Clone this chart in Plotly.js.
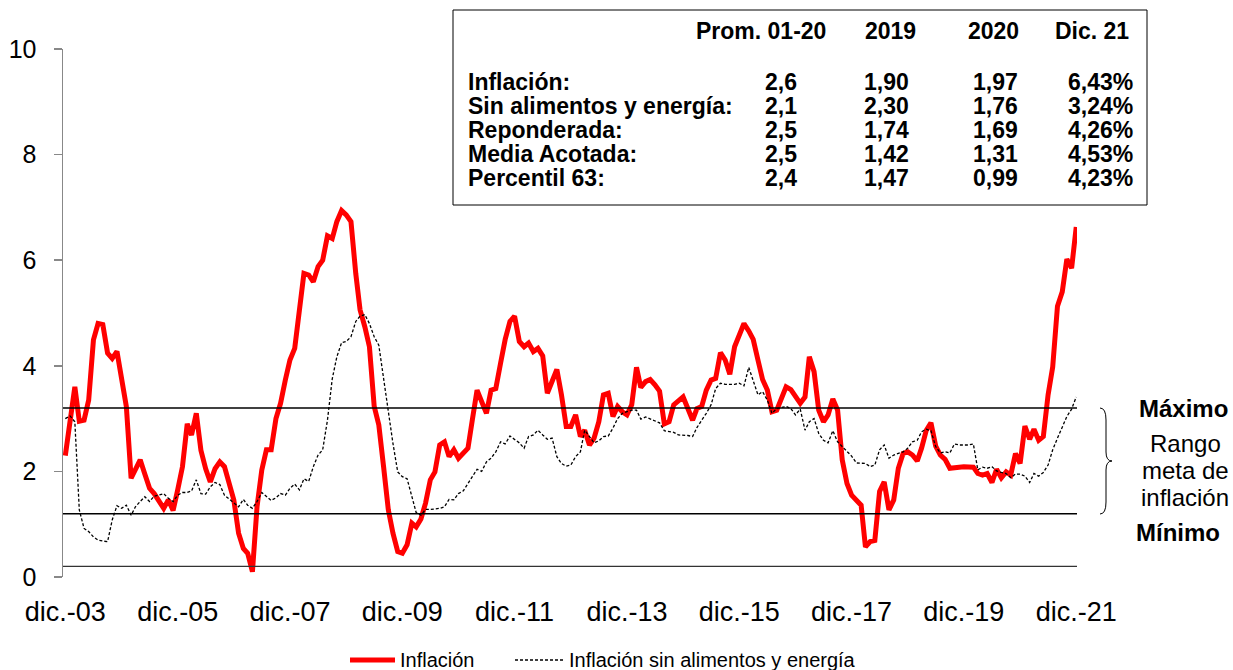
<!DOCTYPE html>
<html>
<head>
<meta charset="utf-8">
<script src="https://cdn.plot.ly/plotly-3.0.1.min.js"></script>
<style>html,body{margin:0;padding:0;background:#fff;}#chart{width:1233px;height:670px;}</style>
</head>
<body>
<div id="chart"></div>
<script>
// Monthly series, dic.-2003 .. dic.-2021 (217 months)
var startMonth = '2003-12';
var inflacion = [
2.30,2.90,3.60,2.95,2.97,3.35,4.49,4.80,4.78,4.24,4.14,4.27,3.73,3.23,1.87,2.05,2.22,1.95,1.68,1.58,
1.45,1.30,1.46,1.26,1.65,2.09,2.90,2.69,3.10,2.40,2.05,1.80,2.05,2.18,2.09,1.80,1.46,0.83,0.54,0.45,
0.10,1.33,2.03,2.41,2.41,3.00,3.29,3.73,4.11,4.33,4.99,5.75,5.72,5.59,5.88,6.00,6.46,6.41,6.73,6.94,
6.86,6.73,5.75,5.06,4.74,4.36,3.23,2.88,2.09,1.27,0.83,0.48,0.45,0.61,1.02,0.95,1.10,1.40,1.84,1.99,
2.50,2.56,2.28,2.41,2.25,2.34,2.44,2.97,3.54,3.32,3.10,3.54,3.57,4.05,4.50,4.84,4.94,4.46,4.36,4.43,
4.27,4.33,4.19,3.48,3.70,3.93,3.45,2.85,2.85,3.07,2.66,2.78,2.50,2.63,2.94,3.45,3.48,3.04,3.23,3.13,
3.07,3.26,3.97,3.59,3.70,3.74,3.64,3.52,2.90,2.94,3.26,3.34,3.41,3.19,2.97,3.19,3.23,3.54,3.73,3.76,
4.25,4.11,3.84,4.36,4.58,4.80,4.66,4.50,4.11,3.74,3.54,3.13,3.16,3.38,3.60,3.55,3.43,3.29,3.41,4.17,
3.89,3.16,2.94,3.07,3.37,3.16,2.22,1.77,1.55,1.46,1.36,0.57,0.67,0.69,1.62,1.80,1.27,1.46,2.06,2.34,
2.37,2.31,2.20,2.44,2.78,2.92,2.48,2.31,2.23,2.06,2.08,2.08,2.09,2.09,2.08,1.96,1.93,1.96,1.79,2.04,
1.88,1.99,1.93,2.34,2.15,2.86,2.61,2.80,2.59,2.66,3.45,3.98,5.13,5.40,6.02,5.85,6.63
];
var sinAlimentos = [
3.00,3.05,2.94,1.27,0.92,0.86,0.76,0.70,0.68,0.67,1.08,1.35,1.30,1.36,1.17,1.33,1.43,1.52,1.43,1.53,
1.55,1.58,1.49,1.43,1.55,1.60,1.60,1.63,1.84,1.58,1.57,1.71,1.79,1.75,1.55,1.47,1.40,1.33,1.47,1.36,
1.30,1.43,1.60,1.52,1.45,1.50,1.58,1.55,1.68,1.76,1.65,1.86,1.81,2.09,2.31,2.41,2.97,3.75,4.17,4.44,
4.46,4.55,4.84,4.94,4.97,4.80,4.55,4.39,3.75,3.10,2.53,1.99,1.90,1.86,1.52,1.22,1.17,1.28,1.28,1.29,
1.30,1.33,1.47,1.46,1.58,1.63,1.77,1.89,2.04,2.00,2.18,2.25,2.37,2.56,2.52,2.67,2.61,2.54,2.44,2.66,
2.69,2.78,2.69,2.61,2.63,2.28,2.15,2.10,2.12,2.28,2.37,2.78,2.66,2.54,2.58,2.66,2.67,2.82,3.00,3.10,
3.13,3.16,3.16,2.99,3.03,2.99,2.96,2.92,2.77,2.75,2.74,2.69,2.69,2.68,2.66,2.83,2.97,3.10,3.26,3.57,
3.67,3.65,3.65,3.65,3.67,3.62,3.97,3.73,3.45,3.51,3.35,3.10,3.19,3.21,3.23,3.19,3.07,3.18,2.78,2.94,
3.00,2.72,2.59,2.54,2.77,2.56,2.47,2.39,2.29,2.16,2.16,2.15,2.09,2.12,2.41,2.50,2.25,2.31,2.34,2.37,
2.44,2.56,2.59,2.75,2.80,2.77,2.47,2.35,2.37,2.35,2.52,2.50,2.50,2.50,2.52,2.03,2.08,2.06,2.09,2.01,
1.98,1.96,1.88,1.95,1.95,1.91,1.79,1.96,1.91,1.98,2.12,2.41,2.63,2.85,3.04,3.18,3.41
];
var tickVals = ['2003-12-01','2005-12-01','2007-12-01','2009-12-01','2011-12-01','2013-12-01','2015-12-01','2017-12-01','2019-12-01','2021-12-01'];
var tickText = ['dic.-03','dic.-05','dic.-07','dic.-09','dic.-11','dic.-13','dic.-15','dic.-17','dic.-19','dic.-21'];
var metaMax = 3.2, metaMin = 1.2, baseLine = 0.2;
var seriesNames = ['Inflación', 'Inflación sin alimentos y energía'];

// Table
var tableHeader = ['Prom. 01-20','2019','2020','Dic. 21'];
var tableRows = ['Inflación:','Sin alimentos y energía:','Reponderada:','Media Acotada:','Percentil 63:'];
var colProm = ['2,6','2,1','2,5','2,5','2,4'];
var col2019 = ['1,90','2,30','1,74','1,42','1,47'];
var col2020 = ['1,97','1,76','1,69','1,31','0,99'];
var colDic21 = ['6,43%','3,24%','4,26%','4,53%','4,23%'];

// month list
var months = [];
(function(){
  var y = parseInt(startMonth.slice(0,4),10), m = parseInt(startMonth.slice(5,7),10);
  for (var i = 0; i < inflacion.length; i++) {
    months.push(y + '-' + (m < 10 ? '0' + m : m) + '-01');
    m++; if (m > 12) { m = 1; y++; }
  }
})();

// pixel -> paper helpers (plot area: x 63..1077, y 49..577)
var L = 63, R = 1077, T = 49, B = 577;
function px(x){ return (x - L) / (R - L); }
function py(y){ return (B - y) / (B - T); }

var FONT = 'Liberation Sans, Arial, sans-serif';
var ann = [];
function addText(text, x, y, size, bold, anchor){
  ann.push({text: bold ? '<b>' + text + '</b>' : text, xref:'paper', yref:'paper',
    x: px(x), y: py(y), xanchor: anchor || 'center', yanchor:'middle', showarrow:false,
    font:{family:FONT, size:size, color:'#000'}});
}
var colX = [761, 890, 993, 1092];
var valX = [781, 886, 995, 1100];
var rowY = [82, 106, 130, 154, 178];
for (var c = 0; c < tableHeader.length; c++) addText(tableHeader[c], colX[c], 31, 23, true);
var cols = [colProm, col2019, col2020, colDic21];
for (var r = 0; r < tableRows.length; r++) {
  addText(tableRows[r], 466, rowY[r], 23, true, 'left');
  for (var c2 = 0; c2 < cols.length; c2++) addText(cols[c2][r], valX[c2], rowY[r], 23, true);
}
addText('Máximo', 1183, 408, 24, true);
addText('Rango', 1185, 443, 24, false);
addText('meta de', 1185, 470, 24, false);
addText('inflación', 1185, 497, 24, false);
addText('Mínimo', 1178, 532, 24, true);
// legend texts
addText(seriesNames[0], 398, 660, 20, false, 'left');
addText(seriesNames[1], 567, 660, 20, false, 'left');

var shapes = [
  {type:'line', xref:'paper', yref:'y', x0:0, x1:1, y0:metaMax, y1:metaMax, line:{color:'#000', width:1.5}},
  {type:'line', xref:'paper', yref:'y', x0:0, x1:1, y0:metaMin, y1:metaMin, line:{color:'#000', width:1.5}},
  {type:'line', xref:'paper', yref:'y', x0:0, x1:1, y0:baseLine, y1:baseLine, line:{color:'#333', width:1.2}},
  {type:'rect', xref:'paper', yref:'paper', x0:px(453), x1:px(1147), y0:py(205), y1:py(10), line:{color:'#000', width:1}, fillcolor:'rgba(0,0,0,0)'},
  // legend samples
  {type:'line', xref:'paper', yref:'paper', x0:px(350), x1:px(395), y0:py(660), y1:py(660), line:{color:'#FF0000', width:5}},
  {type:'line', xref:'paper', yref:'paper', x0:px(515), x1:px(563), y0:py(660), y1:py(660), line:{color:'#000', width:1.3, dash:'3px,2px'}}
];
// brace
(function(){
  var x0 = px(1100), xm = px(1106), xt = px(1112);
  var yTop = py(408), yBot = py(514), yMid = py(461);
  var d = 'M' + x0 + ',' + yTop +
    ' Q' + xm + ',' + yTop + ' ' + xm + ',' + py(420) +
    ' L' + xm + ',' + py(452) +
    ' Q' + xm + ',' + yMid + ' ' + xt + ',' + yMid +
    ' Q' + xm + ',' + yMid + ' ' + xm + ',' + py(470) +
    ' L' + xm + ',' + py(502) +
    ' Q' + xm + ',' + yBot + ' ' + x0 + ',' + yBot;
  shapes.push({type:'path', xref:'paper', yref:'paper', path:d, line:{color:'#000', width:1}});
})();

var traces = [
  {x: months, y: inflacion, type:'scatter', mode:'lines', name:seriesNames[0],
   line:{color:'#FF0000', width:5}},
  {x: months, y: sinAlimentos, type:'scatter', mode:'lines', name:seriesNames[1],
   line:{color:'#000000', width:1.3, dash:'3px,2px'}}
];

var layout = {
  width:1233, height:670,
  margin:{l:L, r:1233-R, t:T, b:670-B, pad:0},
  paper_bgcolor:'#fff', plot_bgcolor:'#fff',
  font:{family:FONT, size:22, color:'#000'},
  showlegend:false,
  xaxis:{type:'date', range:['2003-11-16','2021-12-06'], tickvals:tickVals, ticktext:tickText,
    showgrid:false, zeroline:false, showline:false, ticks:'', ticklabelstandoff:16,
    tickfont:{family:FONT, size:27, color:'#000'}},
  yaxis:{range:[0,10], dtick:2, tick0:0, showgrid:false, zeroline:false, showline:true,
    linecolor:'#888', linewidth:1.5, ticks:'outside', ticklen:8, tickcolor:'#888', tickwidth:1.5,
    ticklabelstandoff:12, tickfont:{family:FONT, size:25, color:'#000'}},
  shapes:shapes,
  annotations:ann
};
Plotly.newPlot('chart', traces, layout, {displayModeBar:false, staticPlot:true});
</script>
</body>
</html>
